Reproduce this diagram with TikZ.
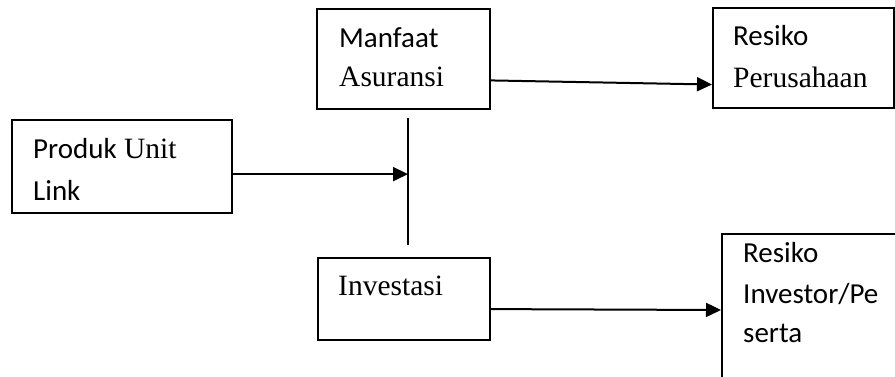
\documentclass[tikz,border=0pt]{standalone}
\usepackage{fontspec}
\setmainfont{Liberation Serif}
\newfontfamily\calfont{Carlito}
\newfontfamily\tmsfont{Liberation Serif}
\usetikzlibrary{arrows.meta,calc}
\begin{document}
\begin{tikzpicture}[x=1pt,y=-1pt,
  box/.style={draw, line width=2pt, inner sep=0pt, anchor=north west},
  lbl/.style={anchor=base west, inner sep=0pt},
  arr/.style={line width=2pt, -{Triangle[length=15pt,width=14pt]}}]
\clip (0,0) rectangle (895,376);
\fill[white] (0,0) rectangle (895,376);
% boxes
\node[box, minimum width=173pt, minimum height=100pt] (mA) at (316,8) {};
\node[box, minimum width=181pt, minimum height=100pt] (rP) at (712,7) {};
\node[box, minimum width=220pt, minimum height=93pt] (pU) at (11,119) {};
\node[box, minimum width=172pt, minimum height=82pt] (iV) at (317,257) {};
\node[box, minimum width=200pt, minimum height=160pt] (rI) at (721,233) {};
% labels
\node[lbl] (t1) at (339,47) {\fontsize{29}{34}\calfont Manfaat};
\node[lbl] (t2) at (339,86) {\fontsize{29.5}{34}\tmsfont Asuransi};
\node[lbl] (t3) at (733,45) {\fontsize{29}{34}\calfont Resiko};
\node[lbl] (t4) at (733,87) {\fontsize{29.5}{34}\tmsfont Perusahaan};
\node[lbl] (t5) at (33,158) {\fontsize{29}{34}\calfont Produk\fontsize{29.5}{34}\tmsfont\ Unit};
\node[lbl] (t6) at (33,200) {\fontsize{29}{34}\calfont Link};
\node[lbl] (t7) at (338,295) {\fontsize{29.5}{34}\tmsfont Investasi};
\node[lbl] (t8) at (743,262) {\fontsize{29}{34}\calfont Resiko};
\node[lbl] (t9) at (743,303) {\fontsize{29}{34}\calfont Investor/Pe};
\node[lbl] (t10) at (743,342) {\fontsize{29}{34}\calfont serta};
% vertical line
\coordinate (vt) at (408,118);
\coordinate (vb) at (408,245);
\draw[line width=2pt] (vt) -- (vb);
% connectors
\coordinate (s1) at ($(mA.north east)!0.71!(mA.south east)$);
\coordinate (e1) at ($(rP.north west)!0.76!(rP.south west)$);
\draw[arr] (s1) -- (e1);
\coordinate (s2) at ($(pU.north east)!0.58!(pU.south east)$);
\draw[arr] (s2) -- (s2 -| vt);
\coordinate (s3) at ($(iV.north east)!0.62!(iV.south east)$);
\coordinate (e3) at ($(rI.north west)+(0,77)$);
\draw[arr] (s3) -- (e3);
\end{tikzpicture}
\end{document}
